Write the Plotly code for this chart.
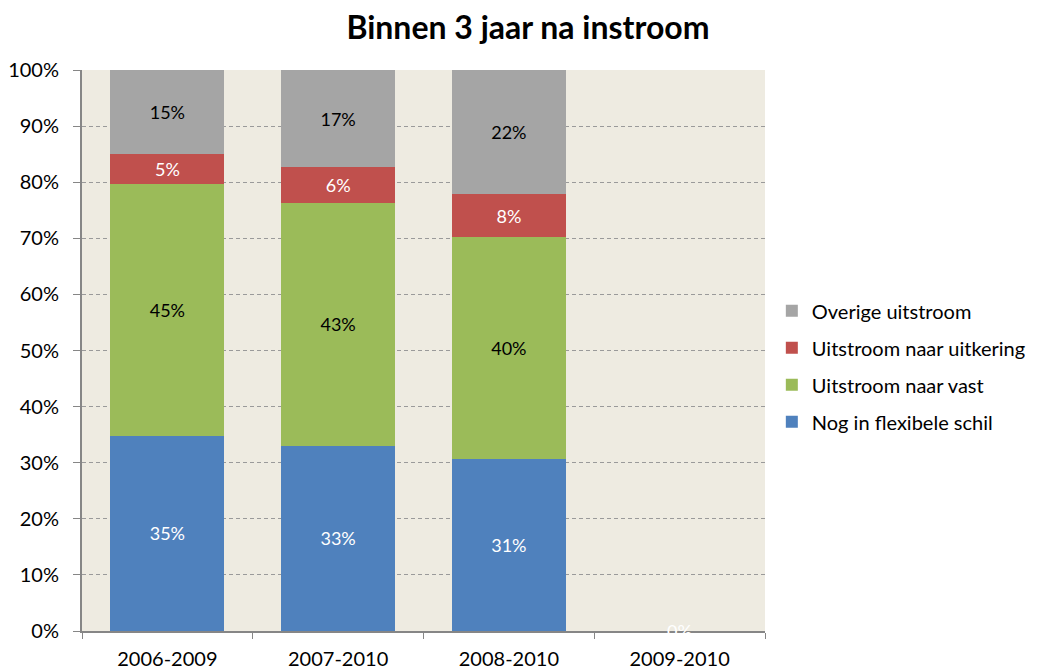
import plotly.graph_objects as go

categories = ["2006-2009", "2007-2010", "2008-2010", "2009-2010"]
series_names = ["Nog in flexibele schil", "Uitstroom naar vast", "Uitstroom naar uitkering", "Overige uitstroom"]
nog_flex = [34.8, 33.0, 30.6, 0]
naar_vast = [44.9, 43.3, 39.6, 0]
naar_uitkering = [5.3, 6.4, 7.7, 0]
overige = [15.0, 17.3, 22.1, 0]
colors = ["#4F81BD", "#9BBB59", "#C0504D", "#A5A5A5"]
text_colors = ["white", "black", "white", "black"]
y_ticks = list(range(0, 101, 10))

FONT = "Lato, 'Open Sans', sans-serif"

fig = go.Figure()
for i, (name, vals, col, tcol) in enumerate(zip(series_names, [nog_flex, naar_vast, naar_uitkering, overige], colors, text_colors)):
    fig.add_trace(go.Bar(
        x=categories, y=vals, name=name, legendgroup=name, legendrank=100 - i,
        marker=dict(color=col, line=dict(width=0)),
        text=[f"{round(v)}%" if v > 0 else "" for v in vals],
        textposition="inside", insidetextanchor="middle",
        textfont=dict(color=tcol, size=18, family=FONT),
        hoverinfo="skip",
    ))

fig.add_annotation(x=categories[3], y=0, text="0%", showarrow=False, yanchor="middle",
                   font=dict(color="white", size=18, family=FONT))

fig.update_layout(
    width=1042, height=670,
    barmode="stack", bargap=0.333,
    paper_bgcolor="white", plot_bgcolor="#EEEBE1",
    margin=dict(l=74, r=285, t=62, b=47, autoexpand=False),
    title=dict(text="<b>Binnen 3 jaar na instroom</b>", x=0.499, xanchor="center", y=0.970, yanchor="middle",
               font=dict(size=32, family=FONT, color="black")),
    font=dict(family=FONT, size=20, color="black"),
    legend=dict(traceorder="grouped", x=1.01, xanchor="left", y=0.472, yanchor="middle",
                font=dict(size=20, family=FONT), itemwidth=30, tracegroupgap=8),
    xaxis=dict(showline=True, linecolor="#868686", linewidth=2, ticks="outside", tickson="boundaries",
               ticklen=6, tickcolor="#868686", showgrid=False, tickfont=dict(size=20),
               ticklabelstandoff=9, automargin=False),
    yaxis=dict(range=[0, 100], tickvals=y_ticks, ticktext=[f"{t}%" for t in y_ticks],
               showline=True, linecolor="#868686", linewidth=2, ticks="outside", ticklen=7,
               tickcolor="#868686", showgrid=True, gridcolor="#9A9A9A", griddash="4px,3px", gridwidth=1,
               zeroline=False, tickfont=dict(size=20), ticklabelstandoff=10, automargin=False),
)

fig.write_html("out.html")
